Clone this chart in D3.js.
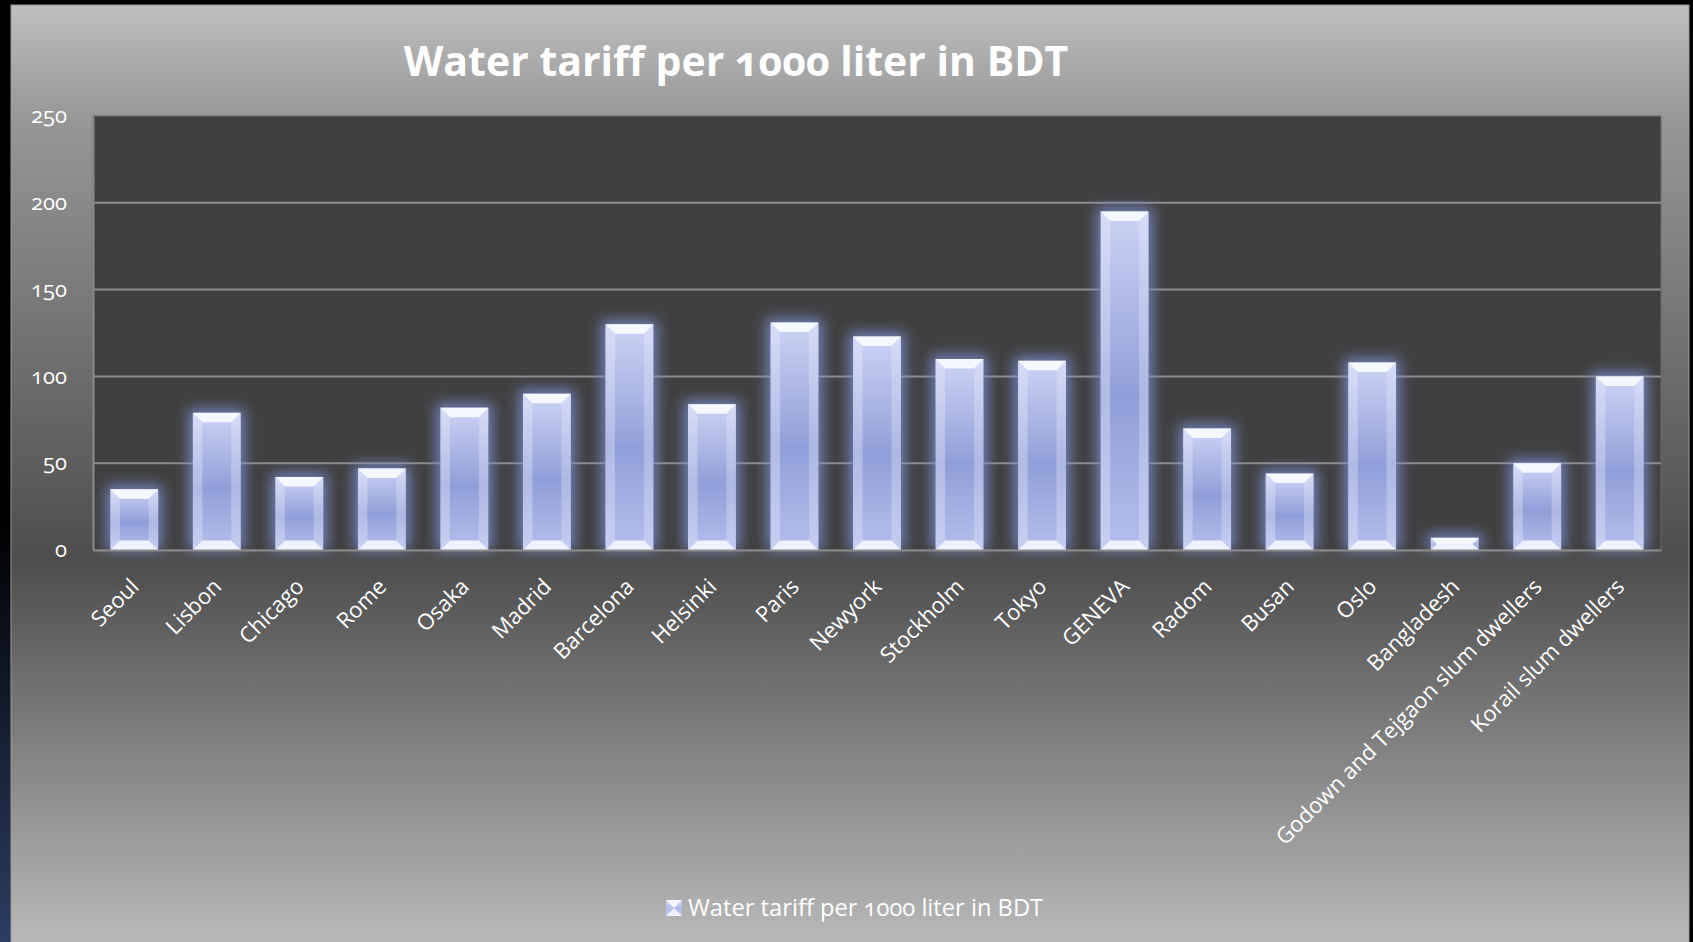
<!DOCTYPE html>
<html>
<head>
<meta charset="utf-8">
<script src="https://cdn.jsdelivr.net/npm/d3@7"></script>
<style>
  body { margin: 0; background: #000; }
  text { font-family: "Open Sans", "DejaVu Sans", sans-serif; fill: #fff; font-feature-settings: "onum"; }
  .title { font-weight: bold; font-size: 41px; }
  .tick text { font-size: 22px; }
  .xlab { font-size: 24.5px; }
  .legend { font-size: 23.7px; }
</style>
</head>
<body>
<svg id="chart" width="1693" height="942"></svg>
<script>
const categories = ["Seoul", "Lisbon", "Chicago", "Rome", "Osaka", "Madrid", "Barcelona", "Helsinki",
  "Paris", "Newyork", "Stockholm", "Tokyo", "GENEVA", "Radom", "Busan", "Oslo", "Bangladesh",
  "Godown and Tejgaon slum dwellers", "Korail slum dwellers"];
const values = [35, 79, 42, 47, 82, 90, 130, 84, 131, 123, 110, 109, 195, 70, 44, 108, 7, 50, 100];
const yTicks = [0, 50, 100, 150, 200, 250];
const seriesName = "Water tariff per 1000 liter in BDT";

const plotBox = {left: 93, right: 1661, top: 116, bottom: 550};

const svg = d3.select("#chart");
const defs = svg.append("defs");

// fondo: franja azul a la izquierda y degradado gris del área del gráfico
const side = defs.append("linearGradient").attr("id", "side").attr("x1", 0).attr("y1", 0).attr("x2", 0).attr("y2", 1);
side.append("stop").attr("offset", "0.55").attr("stop-color", "#000");
side.append("stop").attr("offset", "1").attr("stop-color", "#2a3d62");

const bg = defs.append("linearGradient").attr("id", "bg").attr("x1", 0).attr("y1", 0).attr("x2", 0).attr("y2", 1);
bg.append("stop").attr("offset", "0").attr("stop-color", "#bebebe");
bg.append("stop").attr("offset", "0.12").attr("stop-color", "#979797");
bg.append("stop").attr("offset", "0.59").attr("stop-color", "#4d4d4d");
bg.append("stop").attr("offset", "1").attr("stop-color", "#bababa");

// relleno de las barras
const barFill = defs.append("linearGradient").attr("id", "barFill").attr("x1", 0).attr("y1", 0).attr("x2", 0).attr("y2", 1);
barFill.append("stop").attr("offset", "0").attr("stop-color", "#ccd3f4");
barFill.append("stop").attr("offset", "0.55").attr("stop-color", "#909fd8");
barFill.append("stop").attr("offset", "1").attr("stop-color", "#b4bfec");

const glow = defs.append("filter").attr("id", "glow")
  .attr("x", "-60%").attr("y", "-60%").attr("width", "220%").attr("height", "220%");
glow.append("feGaussianBlur").attr("stdDeviation", 7);

svg.append("rect").attr("x", 0).attr("y", 0).attr("width", 11).attr("height", 942).attr("fill", "url(#side)");
svg.append("rect").attr("x", 11).attr("y", 5).attr("width", 1678).attr("height", 942)
  .attr("fill", "url(#bg)").attr("stroke", "#9a9a9a").attr("stroke-width", 1);

// área de trazado
svg.append("rect")
  .attr("x", plotBox.left).attr("y", plotBox.top)
  .attr("width", plotBox.right - plotBox.left).attr("height", plotBox.bottom - plotBox.top)
  .attr("fill", "#404040").attr("stroke", "#6a6a6a").attr("stroke-width", 1);

const xScale = d3.scaleBand()
  .domain(categories)
  .range([plotBox.left, plotBox.right])
  .paddingInner(0.42)
  .paddingOuter(0.21);

const yScale = d3.scaleLinear()
  .domain([0, 250])
  .range([plotBox.bottom, plotBox.top]);

// líneas de cuadrícula
svg.append("g")
  .selectAll("line")
  .data(yTicks.filter((t) => t > 0 && t < 250))
  .enter()
  .append("line")
  .attr("x1", plotBox.left).attr("x2", plotBox.right)
  .attr("y1", (d) => yScale(d)).attr("y2", (d) => yScale(d))
  .attr("stroke", "#8c8c8c").attr("stroke-width", 2);

// barras con bisel
function drawBar(g, x, y, w, h) {
  const b = Math.min(9.5, h / 2, w / 2);
  g.append("rect")
    .attr("x", x - 4).attr("y", y - 4).attr("width", w + 8).attr("height", h + 4)
    .attr("fill", "#7b8fd2").attr("opacity", 0.85).attr("filter", "url(#glow)");
  g.append("rect")
    .attr("x", x).attr("y", y).attr("width", w).attr("height", h)
    .attr("fill", "url(#barFill)");
  g.append("polygon")
    .attr("points", [[x, y], [x + b, y + b], [x + b, y + h - b], [x, y + h]].join(" "))
    .attr("fill", "#eef1ff").attr("opacity", 0.35);
  g.append("polygon")
    .attr("points", [[x + w, y], [x + w - b, y + b], [x + w - b, y + h - b], [x + w, y + h]].join(" "))
    .attr("fill", "#eef1ff").attr("opacity", 0.3);
  g.append("polygon")
    .attr("points", [[x, y], [x + w, y], [x + w - b, y + b], [x + b, y + b]].join(" "))
    .attr("fill", "#f6f8ff");
  g.append("polygon")
    .attr("points", [[x, y + h], [x + b, y + h - b], [x + w - b, y + h - b], [x + w, y + h]].join(" "))
    .attr("fill", "#f0f3ff");
}

const bars = svg.append("g");
categories.forEach((c, i) => {
  const g = bars.append("g");
  drawBar(g, xScale(c), yScale(values[i]), xScale.bandwidth(), yScale(0) - yScale(values[i]));
});

// ejes
const yAxis = svg.append("g")
  .attr("transform", "translate(" + plotBox.left + ",0)")
  .call(d3.axisLeft(yScale).tickValues(yTicks).tickSize(0).tickPadding(26));
yAxis.select(".domain").attr("stroke", "#8a8a8a").attr("stroke-width", 2);
yAxis.selectAll("text").attr("fill", "#fff").attr("dy", "0.3em");

const xAxis = svg.append("g")
  .attr("transform", "translate(0," + plotBox.bottom + ")")
  .call(d3.axisBottom(xScale).tickSize(0));
xAxis.select(".domain").attr("stroke", "#8a8a8a").attr("stroke-width", 2);
xAxis.selectAll("text")
  .attr("class", "xlab")
  .attr("fill", "#fff")
  .attr("x", 0).attr("y", 0).attr("dy", 0)
  .attr("text-anchor", "end")
  .attr("transform", "translate(6,38) rotate(-45)");

// título
svg.append("text")
  .attr("class", "title")
  .attr("x", 736)
  .attr("y", 76)
  .attr("text-anchor", "middle")
  .text(seriesName);

// leyenda
const legend = svg.append("g").attr("transform", "translate(666,900)");
drawBar(legend.append("g"), 0, 0, 16, 16);
legend.select("rect").remove();
legend.append("text")
  .attr("class", "legend")
  .attr("x", 22)
  .attr("y", 16)
  .text(seriesName);
</script>
</body>
</html>
